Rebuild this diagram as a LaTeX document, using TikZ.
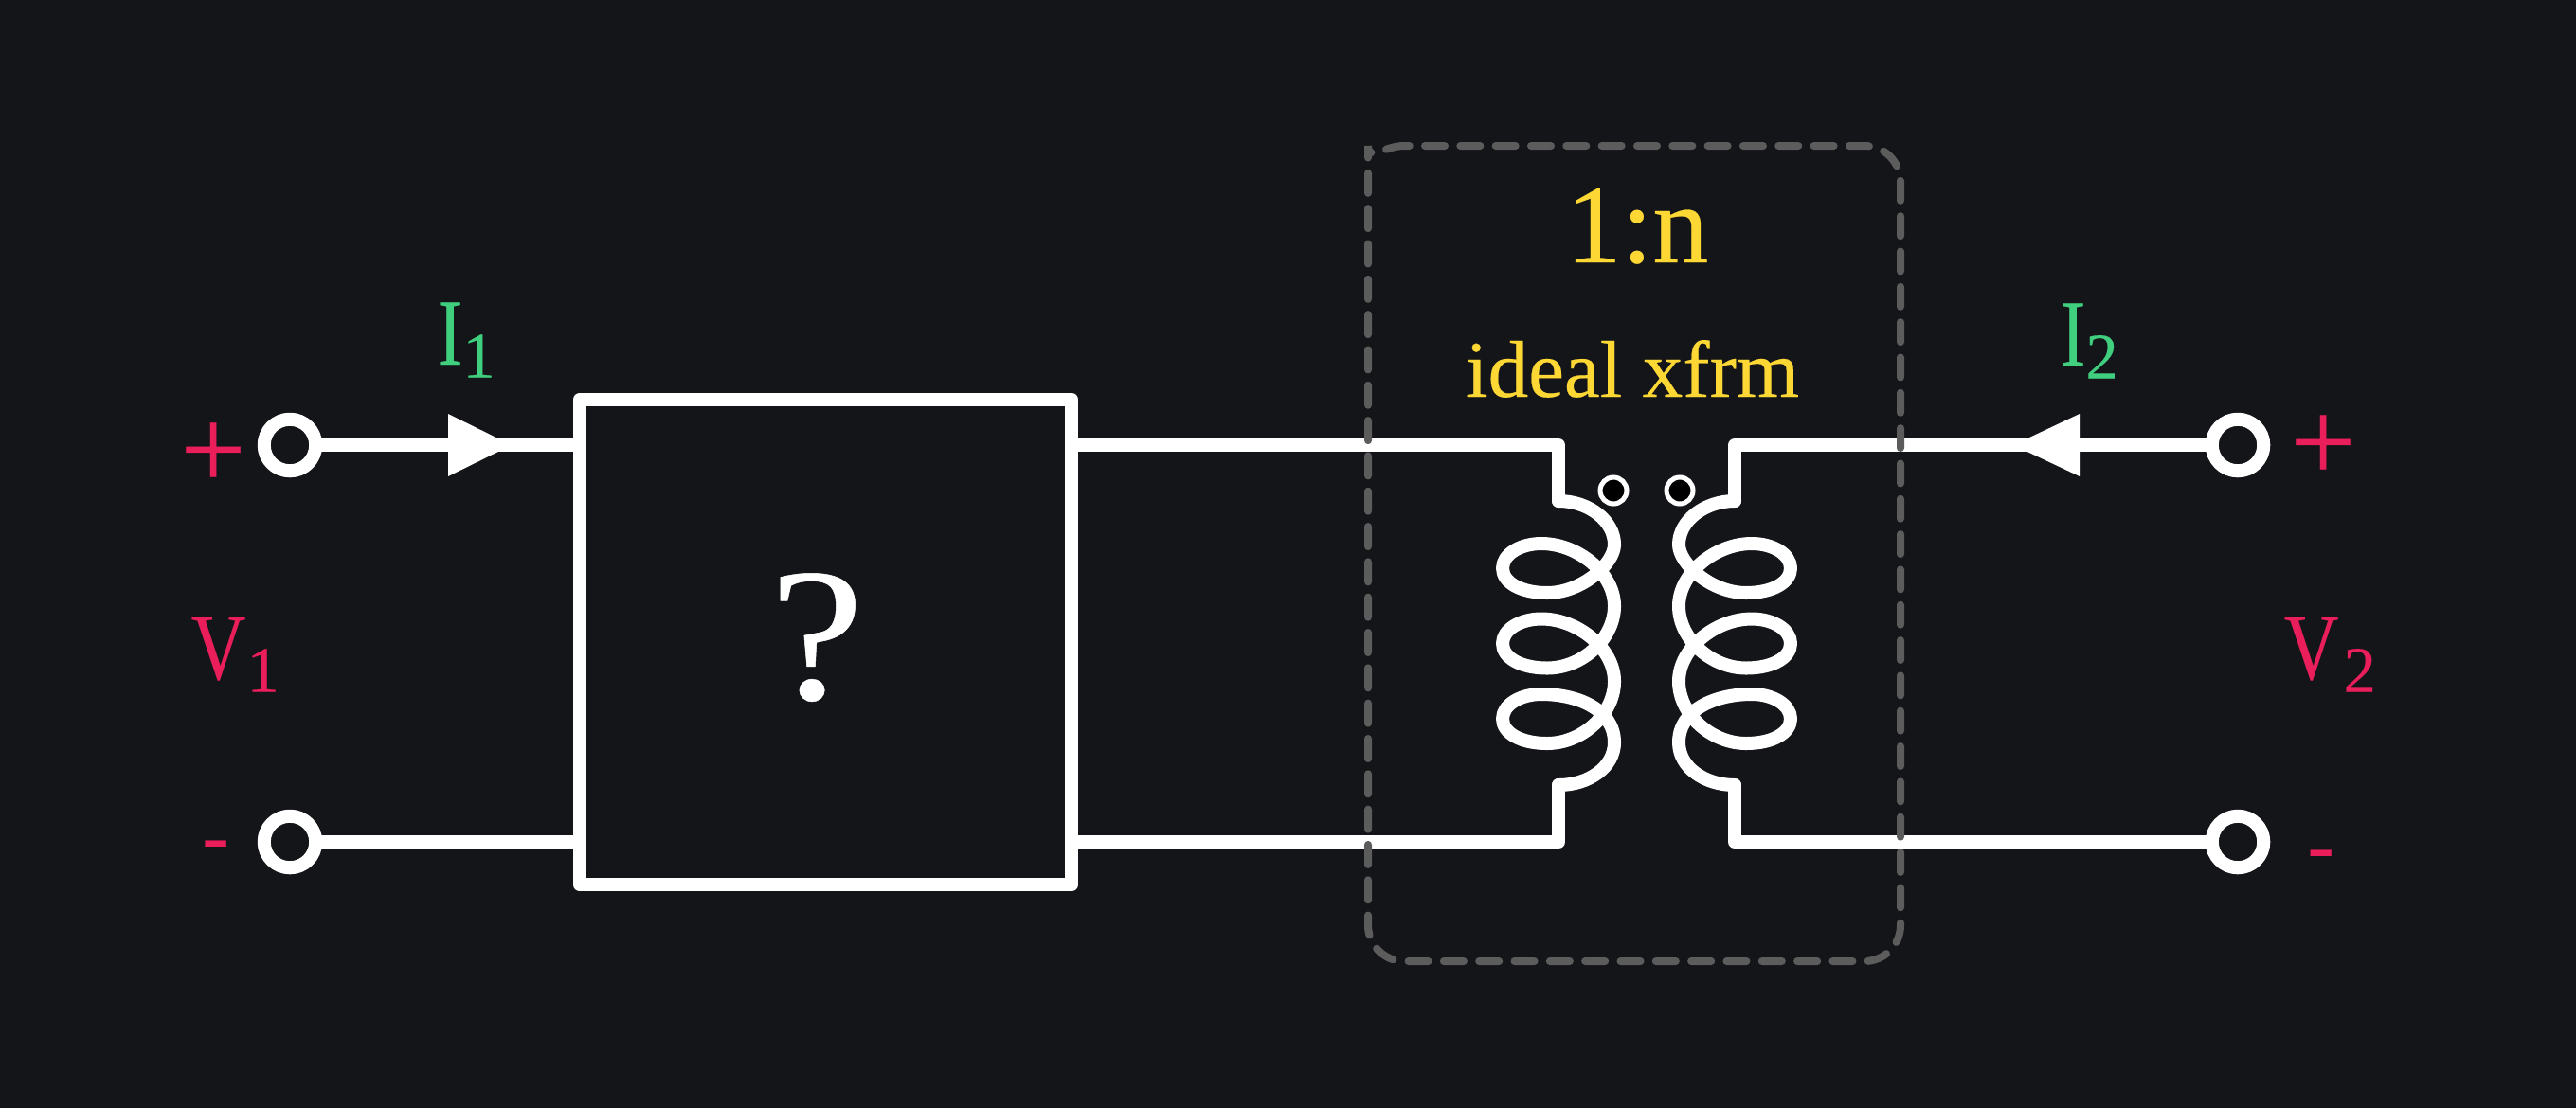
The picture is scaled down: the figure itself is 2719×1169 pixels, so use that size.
\documentclass[tikz,border=0pt]{standalone}
\usepackage{fontspec}
\setmainfont[FakeBold=0.25]{Liberation Serif}
\newfontfamily\symfont[FakeStretch=0.8,FakeBold=0.25]{Liberation Serif}
\newfontfamily\wideface[FakeStretch=1.12,FakeBold=0.25]{Liberation Serif}
\usetikzlibrary{positioning}
\definecolor{bgcol}{HTML}{131519}
\definecolor{volt}{HTML}{E91E5B}
\definecolor{curr}{HTML}{3FCF7F}
\definecolor{xfrmcol}{HTML}{FDD835}
\definecolor{dashcol}{HTML}{5C5C5C}
\newcommand{\symlab}[3][0.01cm]{\fontsize{28.45pt}{30pt}\symfont #2\kern #1\raisebox{-0.135cm}{\fontsize{19.5pt}{20pt}\rmfamily #3}}
\tikzset{wire/.style = {draw = white, line width = 0.14cm, line join = round, line cap = round}}
\tikzset{term/.style = {wire, circle, fill = bgcol, inner sep = 0, minimum size = 0.545cm}}
\tikzset{dotmark/.style = {draw = white, line width = 0.05cm, circle, fill = black, inner sep = 0, minimum size = 0.28cm}}
\tikzset{blackbox/.style = {wire, rectangle, inner sep = 0, outer sep = 0, minimum width = 5.19cm, minimum height = 5.12cm}}
\tikzset{dashbox/.style = {draw = dashcol, line width = 0.08cm, line cap = round, rounded corners = 0.38cm, dash pattern = on 0.21cm off 0.163cm, dash phase = 0.153cm}}
\tikzset{symb/.style = {inner sep = 0, anchor = base west}}
\tikzset{coil/.pic = {
  \draw [wire] (0, 0) .. controls (32, 0) and (59, 21) .. (59, 46)
    foreach \c/\n in {71/111, 150.5/190.5, 230/255} {
      .. controls (59, \c - 5) and (25, \c + 26) .. (-12, \c + 26)
      .. controls (-40, \c + 26) and (-59, \c + 15) .. (-59, \c)
      .. controls (-59, \c - 15) and (-40, \c - 26) .. (-18, \c - 26)
      .. controls (20, \c - 26) and (59, \n - 35) .. (59, \n)
    }
    .. controls (59, 281) and (32, 300) .. (0, 300);
}}

\begin{document}
\begin{tikzpicture}[x=0.01cm, y=-0.01cm]
  \useasboundingbox (0, 0) rectangle (2719, 1169);
  \fill [bgcol] (-10, -10) rectangle (2729, 1179);

  \node [term] (inp) at (306, 470) {};
  \node [term] (inn) at (306, 889) {};
  \node [term] (outp) at (2362, 470) {};
  \node [term] (outn) at (2362, 889) {};
  \node [blackbox] (unknown) at (871.5, 678) {};
  \node [white, inner sep = 0, anchor = base, font = \fontsize{57pt}{60pt}\wideface] (qmark) at (862, 738) {?};

  \coordinate (pria) at (1645, 529);
  \coordinate (prib) at (1645, 829);
  \coordinate (seca) at (1831, 529);
  \coordinate (secb) at (1831, 829);

  \draw [wire] (inp) -- (inp -| unknown.west);
  \draw [wire] (inn) -- (inn -| unknown.west);
  \draw [wire] (unknown.east |- inp) -- (inp -| pria) -- (pria);
  \draw [wire] (unknown.east |- inn) -- (inn -| prib) -- (prib);
  \draw [wire] (outp) -- (outp -| seca) -- (seca);
  \draw [wire] (outn) -- (outn -| secb) -- (secb);
  \pic at (pria) {coil};
  \pic [xscale = -1] at (seca) {coil};

  \fill [white] (473, 437) -- (540, 470) -- (473, 503) -- cycle;
  \fill [white] (2195, 437) -- (2125, 470) -- (2195, 503) -- cycle;

  \node [dotmark] (dotp) at (1703, 518) {};
  \node [dotmark] (dots) at (1773, 518) {};
  \draw [dashbox] (1482, 154) -- (2006, 154) -- (2006, 1015) -- (1444, 1015) -- (1444, 192) arc [start angle = 180, end angle = 270, radius = 38];

  \node [xfrmcol, inner sep = 0, anchor = base, font = \fontsize{33.5pt}{34pt}\selectfont] (ratio) at (1728, 277) {1:n};
  \node [xfrmcol, inner sep = 0, anchor = base, font = \fontsize{24.2pt}{25pt}\selectfont] (ideal) at (1723, 419) {ideal xfrm};

  \node [symb, curr] (ione) at (461, 385) {\symlab[0pt]{I}{1}};
  \node [symb, curr] (itwo) at (2174, 386) {\symlab[0pt]{I}{2}};
  \node [symb, volt] (vone) at (201, 717) {\symlab{V}{1}};
  \node [symb, volt] (vtwo) at (2410, 717) {\symlab[0.05cm]{V}{2}};

  \node [volt, inner sep = 0, font = \fontsize{35pt}{36pt}\selectfont] (plusa) at (225, 481) {+};
  \node [volt, inner sep = 0, font = \fontsize{35pt}{36pt}\selectfont] (plusb) at (2452, 473) {+};
  \node [volt, inner sep = 0, font = \fontsize{24pt}{25pt}\selectfont] (minusa) at (227.5, 899) {-};
  \node [volt, inner sep = 0, font = \fontsize{24pt}{25pt}\selectfont] (minusb) at (2449.5, 909) {-};
\end{tikzpicture}
\end{document}
